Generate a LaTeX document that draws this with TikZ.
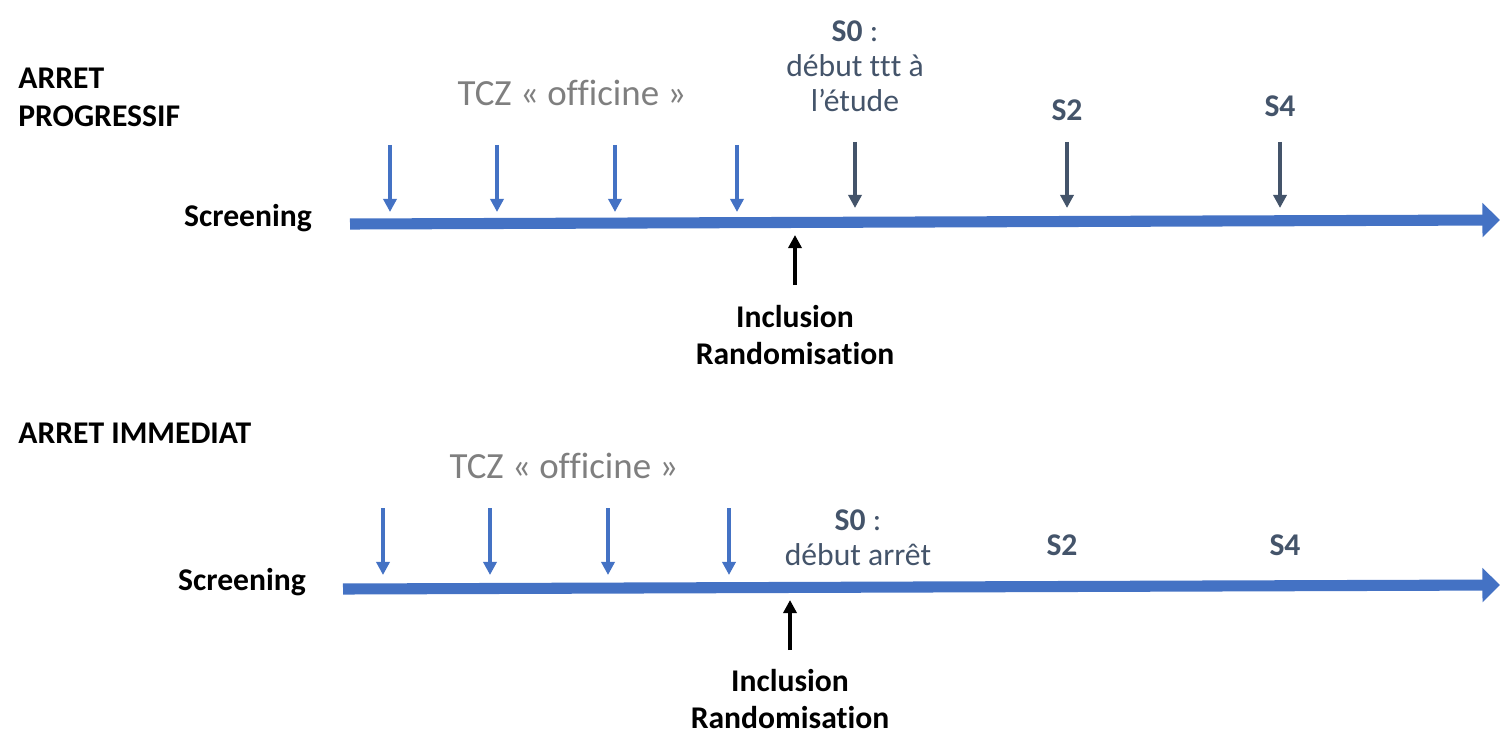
\documentclass[tikz,border=0pt]{standalone}
\usepackage{fontspec}
\setmainfont{Carlito}[Ligatures=NoCommon]
\usetikzlibrary{arrows.meta}
\definecolor{axisblue}{HTML}{4472C4}
\definecolor{slategray}{HTML}{44546A}
\definecolor{tczgray}{HTML}{7F7F7F}
\tikzset{axis/.style = {axisblue, line width=6.3pt, -{Triangle[width=19pt, length=10pt]}}}
\tikzset{tick/.style = {axisblue, line width=2.3pt, -{Triangle[width=7.5pt, length=7.5pt]}}}
\tikzset{visit/.style = {slategray, line width=2.3pt, -{Triangle[width=7.5pt, length=7.5pt]}}}
\tikzset{incl/.style = {black, line width=2.3pt, -{Triangle[width=7.5pt, length=7.5pt]}}}
\tikzset{lbl/.style = {font=\fontsize{18}{21.5}\selectfont\bfseries, align=center, inner sep=0}}
\tikzset{title/.style = {lbl, align=left, anchor=west}}
\tikzset{tcz/.style = {tczgray, font=\fontsize{21}{25}\selectfont, inner sep=0}}
\tikzset{visitlbl/.style = {slategray, font=\fontsize{18}{20}\selectfont, align=center, inner sep=0}}

\begin{document}
\begin{tikzpicture}[x=0.02cm, y=-0.02cm]
  \useasboundingbox (0,0) rectangle (1500,733);

  % arret progressif
  \node [title] (titleA) at (18,97) {ARRET\\PROGRESSIF};
  \node [lbl] (screenA) at (248,218) {Screening};
  \coordinate (axisA0) at (350,224);
  \coordinate (axisA1) at (1500,220);
  \draw [axis] (axisA0) -- (axisA1);

  \node [tcz] (tczA) at (572,93) {TCZ « officine »};
  \foreach \x [count=\i] in {390,497,615,737} {
    \coordinate (tickA\i) at (\x,145);
    \coordinate (hitA\i) at (\x,212);
    \draw [tick] (tickA\i) -- (hitA\i);
  }

  \node [visitlbl] (s0A) at (855,66) {\textbf{S0} :\\début t\kern0pt t\kern0pt t à\\l’étude};
  \node [visitlbl, font=\fontsize{18}{20}\selectfont\bfseries] (s2A) at (1067,110) {S2};
  \node [visitlbl, font=\fontsize{18}{20}\selectfont\bfseries] (s4A) at (1280,106) {S4};
  \foreach \v/\x in {s0A/855, s2A/1067, s4A/1280} {
    \coordinate (\v top) at (\x,142);
    \coordinate (\v hit) at (\x,208);
    \draw [visit] (\v top) -- (\v hit);
  }

  \node [lbl] (inclA) at (795,335) {Inclusion\\Randomisation};
  \coordinate (inclAtop) at (795,285);
  \coordinate (inclAhit) at (795,235);
  \draw [incl] (inclAtop) -- (inclAhit);

  % arret immediat
  \node [title] (titleB) at (18,433) {ARRET IMMEDIAT};
  \node [lbl] (screenB) at (242,582) {Screening};
  \coordinate (axisB0) at (343,589);
  \coordinate (axisB1) at (1500,585);
  \draw [axis] (axisB0) -- (axisB1);

  \node [tcz] (tczB) at (564,466) {TCZ « officine »};
  \foreach \x [count=\i] in {383,490,608,729} {
    \coordinate (tickB\i) at (\x,508);
    \coordinate (hitB\i) at (\x,575);
    \draw [tick] (tickB\i) -- (hitB\i);
  }

  \node [visitlbl] (s0B) at (858,538) {\textbf{S0} :\\début arrêt};
  \node [visitlbl, font=\fontsize{18}{20}\selectfont\bfseries] (s2B) at (1062,545) {S2};
  \node [visitlbl, font=\fontsize{18}{20}\selectfont\bfseries] (s4B) at (1285,545) {S4};

  \node [lbl] (inclB) at (790,699) {Inclusion\\Randomisation};
  \coordinate (inclBtop) at (790,650);
  \coordinate (inclBhit) at (790,600);
  \draw [incl] (inclBtop) -- (inclBhit);
\end{tikzpicture}
\end{document}
